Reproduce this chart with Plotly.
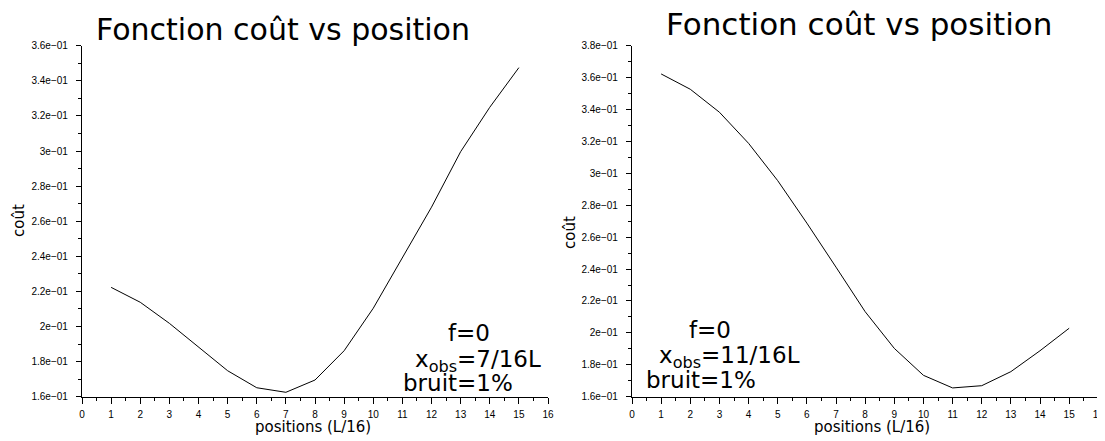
import plotly.graph_objects as go

# ---- data ----
positions = [1, 2, 3, 4, 5, 6, 7, 8, 9, 10, 11, 12, 13, 14, 15]
cout_7 = [0.2223, 0.2138, 0.2018, 0.1885, 0.1748, 0.1651, 0.1625, 0.1695,
          0.1862, 0.2104, 0.2388, 0.2680, 0.2996, 0.3249, 0.3475]
cout_11 = [0.3623, 0.3527, 0.3383, 0.3188, 0.2954, 0.2688, 0.2412, 0.2133,
           0.1903, 0.1734, 0.1655, 0.1669, 0.1757, 0.1888, 0.2029]

x_ticks = list(range(0, 17))
x_ticktext = [str(v) for v in x_ticks]
y1_ticks = [0.16, 0.18, 0.20, 0.22, 0.24, 0.26, 0.28, 0.30, 0.32, 0.34, 0.36]
y1_ticktext = ["1.6e\u221201", "1.8e\u221201", "2e\u221201", "2.2e\u221201", "2.4e\u221201",
               "2.6e\u221201", "2.8e\u221201", "3e\u221201", "3.2e\u221201", "3.4e\u221201",
               "3.6e\u221201"]
y2_ticks = y1_ticks + [0.38]
y2_ticktext = y1_ticktext + ["3.8e\u221201"]

title_text = "Fonction coût vs position"
xlabel = "positions (L/16)"
ylabel = "coût"

OFF = 8  # page body margin
W, H = 1105 - OFF, 441 - OFF
FONT = "DejaVu Sans"
TICKFONT = dict(family="Liberation Sans", size=10, color="black")


def px(xp):
    return (xp - OFF) / W


def py(yp):
    return (H - (yp - OFF)) / H


fig = go.Figure()
fig.add_trace(go.Scatter(x=positions, y=cout_7, mode="lines",
                         line=dict(color="black", width=1), xaxis="x", yaxis="y",
                         showlegend=False, hoverinfo="skip"))
fig.add_trace(go.Scatter(x=positions, y=cout_11, mode="lines",
                         line=dict(color="black", width=1), xaxis="x2", yaxis="y2",
                         showlegend=False, hoverinfo="skip"))

common_x = dict(range=[0, 16], tickvals=x_ticks, ticktext=x_ticktext, ticks="outside",
                ticklen=6, tickwidth=1, tickcolor="black", showline=True, linecolor="black",
                linewidth=1.2, showgrid=False, zeroline=False, tickfont=TICKFONT,
                automargin=False,
                minor=dict(tick0=0, dtick=0.5, ticks="outside", ticklen=3, tickcolor="black",
                           tickwidth=1, showgrid=False),
                ticklabelstandoff=2)
common_y = dict(ticks="outside", ticklen=5, tickwidth=1, tickcolor="black", showline=True,
                linecolor="black", linewidth=1.2, showgrid=False, zeroline=False,
                tickfont=TICKFONT, automargin=False,
                minor=dict(tick0=0, dtick=0.01, ticks="outside", ticklen=3, tickcolor="black",
                           tickwidth=1, showgrid=False),
                ticklabelstandoff=6)

yd = [py(396.7), py(45.7)]
fig.update_layout(
    template="none",
    width=W, height=H, margin=dict(l=0, r=0, t=0, b=0, autoexpand=False),
    paper_bgcolor="white", plot_bgcolor="white",
    xaxis=dict(domain=[px(82), px(548)], anchor="y", **common_x),
    xaxis2=dict(domain=[px(632), px(1098.3)], anchor="y2", **common_x),
    yaxis=dict(domain=yd, anchor="x", range=[0.16, 0.36], tickvals=y1_ticks,
               ticktext=y1_ticktext, **common_y),
    yaxis2=dict(domain=yd, anchor="x2", range=[0.16, 0.38], tickvals=y2_ticks,
                ticktext=y2_ticktext, **common_y),
)

ann = []
# titles
ann.append(dict(text=title_text, x=px(283), y=py(30), font=dict(family=FONT, size=30, color="black")))
ann.append(dict(text=title_text, x=px(859), y=py(24), font=dict(family=FONT, size=31, color="black")))
# axis labels
ann.append(dict(text=xlabel, x=px(312.5), y=py(427), font=dict(family=FONT, size=15, color="black")))
ann.append(dict(text=xlabel, x=px(872), y=py(427), font=dict(family=FONT, size=15, color="black")))
ann.append(dict(text=ylabel, x=px(19), y=py(221), textangle=-90, font=dict(family=FONT, size=15, color="black")))
ann.append(dict(text=ylabel, x=px(570), y=py(233), textangle=-90, font=dict(family=FONT, size=15, color="black")))
# info text
tf = dict(family=FONT, size=23, color="black")
ann.append(dict(text="f=0", x=px(469), y=py(333), font=tf))
ann.append(dict(text="x<sub>obs</sub>=7/16L", x=px(478), y=py(361), font=tf))
ann.append(dict(text="bruit=1%", x=px(458), y=py(383), font=tf))
ann.append(dict(text="f=0", x=px(710), y=py(330), font=tf))
ann.append(dict(text="x<sub>obs</sub>=11/16L", x=px(729), y=py(357), font=tf))
ann.append(dict(text="bruit=1%", x=px(701), y=py(380), font=tf))

for a in ann:
    a.update(xref="paper", yref="paper", showarrow=False, xanchor="center", yanchor="middle")
fig.update_layout(annotations=ann)

fig.write_html("out.html")
